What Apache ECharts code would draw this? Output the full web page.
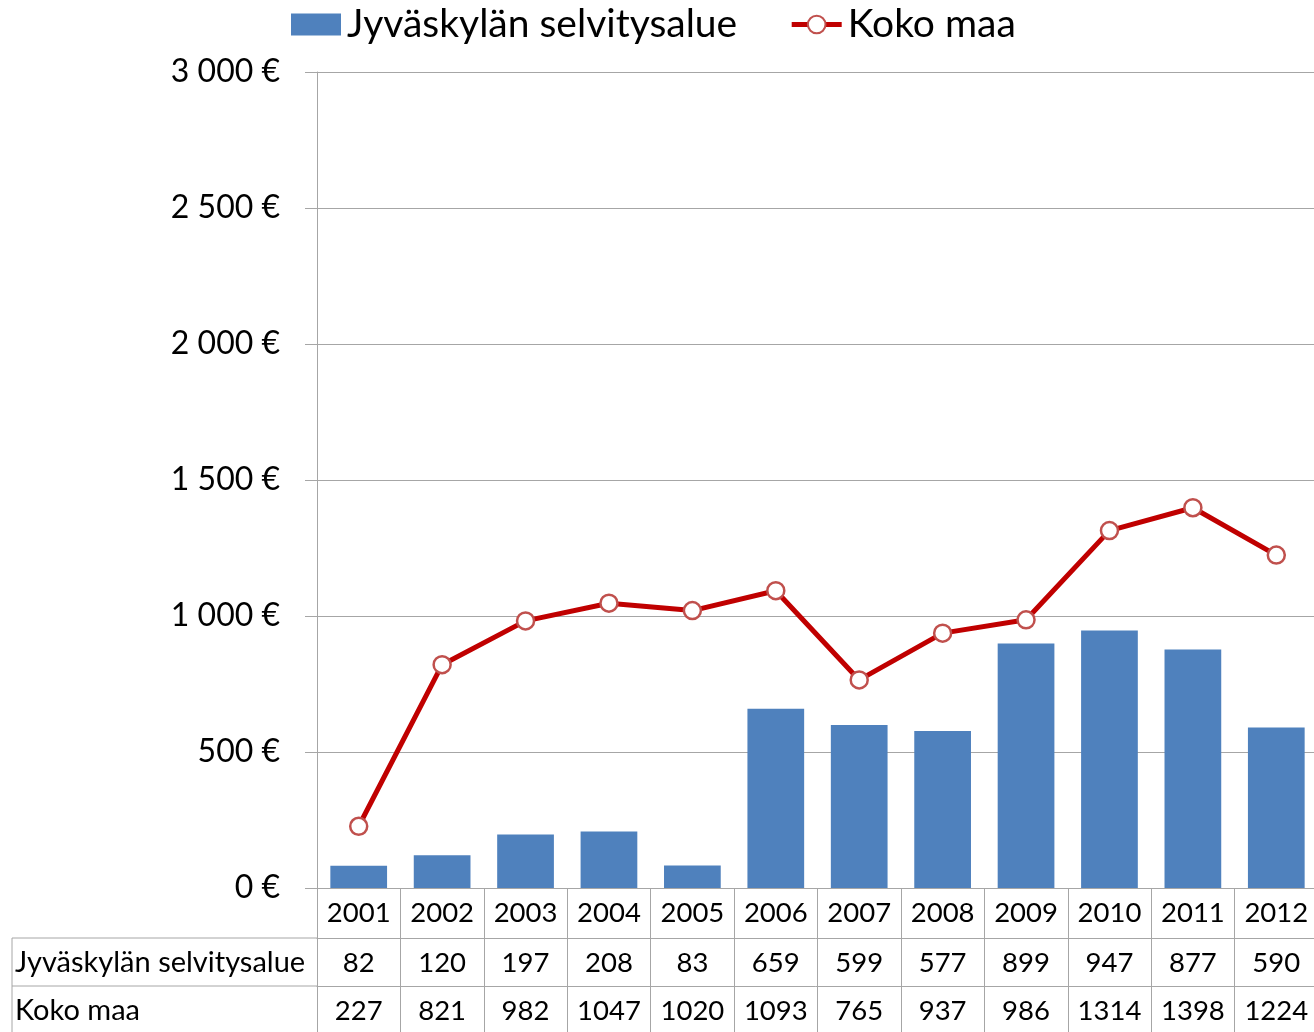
<!DOCTYPE html>
<html>
<head>
<meta charset="utf-8">
<script src="https://cdn.jsdelivr.net/npm/echarts@6/dist/echarts.min.js"></script>
<style>
  html, body { margin: 0; padding: 0; background: #fff; }
  #chart { width: 1314px; height: 1032px; }
</style>
</head>
<body>
<div id="chart"></div>
<script>
// Jyväskylän selvitysalue vs. koko maa, 2001-2012, with data table under the axis
const YEARS = ["2001", "2002", "2003", "2004", "2005", "2006", "2007", "2008", "2009", "2010", "2011", "2012"];
const JYVASKYLA = [82, 120, 197, 208, 83, 659, 599, 577, 899, 947, 877, 590];
const KOKO_MAA = [227, 821, 982, 1047, 1020, 1093, 765, 937, 986, 1314, 1398, 1224];
const NAME_A = "Jyväskylän selvitysalue";
const NAME_B = "Koko maa";

const FONT = "Lato, 'Open Sans', sans-serif";
const BLUE = "#4f81bd";
const RED = "#c00000";
const RULE = "#a6a6a6";

// layout
const PLOT_LEFT = 317, PLOT_TOP = 72, PLOT_BOTTOM = 144, PLOT_W = 1001;
const TABLE_LEFT = 12, ROW_H = 48, FIRST_ROW = 50;

function euro(v) {
  const s = String(v).replace(/\B(?=(\d{3})+(?!\d))/g, " ");
  return s + " €";
}

// one x axis per table row, sharing the category scale
function tableRow(values, offset) {
  return {
    type: "category",
    data: values.map(String),
    position: "bottom",
    offset: offset,
    axisLine: { show: true, lineStyle: { color: RULE, width: 1 } },
    axisTick: { show: true, interval: 0, length: ROW_H, lineStyle: { color: RULE } },
    axisLabel: { interval: 0, margin: 11, color: "#000", fontFamily: FONT, fontSize: 27.5 },
    splitLine: { show: false },
  };
}

const chart = echarts.init(document.getElementById("chart"), null, { renderer: "canvas" });
const H = 1032;
const row1Top = H - PLOT_BOTTOM + FIRST_ROW;
const row2Top = row1Top + ROW_H;

chart.setOption({
  animation: false,
  textStyle: { fontFamily: FONT },
  legend: {
    top: 0,
    left: 286,
    itemWidth: 50,
    itemHeight: 22,
    itemGap: 52,
    textStyle: { fontSize: 39, color: "#000", fontFamily: FONT, padding: [0, 0, 0, 1] },
    lineStyle: { width: 5 },
    data: [{ name: NAME_A, icon: "rect" }, { name: NAME_B }],
  },
  grid: {
    left: PLOT_LEFT, width: PLOT_W, top: PLOT_TOP, bottom: PLOT_BOTTOM,
    outerBoundsMode: "none",
  },
  xAxis: [
    {
      type: "category",
      data: YEARS,
      position: "bottom",
      axisLine: { show: true, lineStyle: { color: RULE, width: 1 } },
      axisTick: { show: true, interval: 0, length: FIRST_ROW, lineStyle: { color: RULE } },
      axisLabel: { interval: 0, margin: 11, color: "#000", fontFamily: FONT, fontSize: 27.5 },
    },
    tableRow(JYVASKYLA, FIRST_ROW),
    tableRow(KOKO_MAA, FIRST_ROW + ROW_H),
  ],
  yAxis: {
    type: "value",
    min: 0,
    max: 3000,
    interval: 500,
    axisLine: { show: true, lineStyle: { color: RULE } },
    axisTick: { show: true, length: 12, lineStyle: { color: RULE } },
    axisLabel: { margin: 37, color: "#000", fontFamily: FONT, fontSize: 32, formatter: euro },
    splitLine: { lineStyle: { color: RULE, width: 1 } },
  },
  series: [
    {
      name: NAME_A,
      type: "bar",
      data: JYVASKYLA,
      barWidth: "68%",
      itemStyle: { color: BLUE },
    },
    {
      name: NAME_B,
      type: "line",
      data: KOKO_MAA,
      symbol: "circle",
      symbolSize: 17,
      lineStyle: { color: RED, width: 5 },
      itemStyle: { color: "#fff", borderColor: "#c0504d", borderWidth: 2.5 },
      z: 3,
    },
  ],
  graphic: [
    // row label column of the data table
    { type: "line", shape: { x1: TABLE_LEFT, y1: row1Top, x2: PLOT_LEFT, y2: row1Top }, style: { stroke: RULE, lineWidth: 1 } },
    { type: "line", shape: { x1: TABLE_LEFT, y1: row2Top, x2: PLOT_LEFT, y2: row2Top }, style: { stroke: RULE, lineWidth: 1 } },
    { type: "line", shape: { x1: TABLE_LEFT, y1: row1Top, x2: TABLE_LEFT, y2: H }, style: { stroke: RULE, lineWidth: 1 } },
    { type: "text", x: TABLE_LEFT + 3, y: row1Top + ROW_H / 2 + 1, style: { text: NAME_A, fill: "#000", font: "29px " + FONT, verticalAlign: "middle" } },
    { type: "text", x: TABLE_LEFT + 3, y: row2Top + ROW_H / 2 + 1, style: { text: NAME_B, fill: "#000", font: "29px " + FONT, verticalAlign: "middle" } },
  ],
});
</script>
</body>
</html>
